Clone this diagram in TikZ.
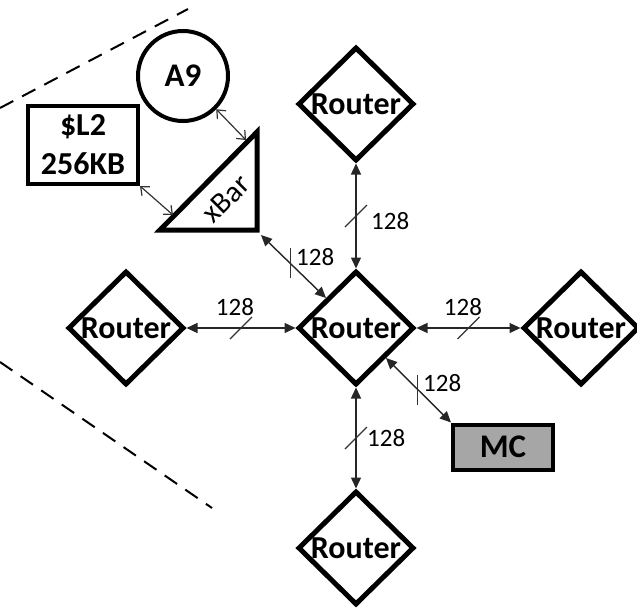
\documentclass[tikz,border=0pt]{standalone}
\usepackage{fontspec}
\setmainfont{Carlito}
\usetikzlibrary{shapes.geometric,arrows.meta}
\begin{document}
\begin{tikzpicture}[x=1pt,y=-1pt,
 router/.style={diamond,draw,line width=5pt,inner sep=0pt,minimum width=116pt,minimum height=114pt,font=\fontsize{32}{36}\selectfont\bfseries},
 conn/.style={line width=1.4pt,draw=black!85,{Triangle[length=11pt,width=10pt]}-{Triangle[length=11pt,width=10pt]}},
 thinconn/.style={line width=1.2pt,draw=black!80,{Straight Barb[length=7pt,width=12pt]}-{Straight Barb[length=7pt,width=12pt]}},
 lbl/.style={font=\fontsize{25}{28}\selectfont,inner sep=0pt},
 tickmark/.style={line width=1.2pt,draw=black!80},
 dashline/.style={line width=2pt,dash pattern=on 15pt off 10pt},
 boldtext/.style={font=\fontsize{33}{38}\selectfont\bfseries}
]
\useasboundingbox (0,0) rectangle (637,608);

% dashed boundary lines
\coordinate (d1a) at (0,108);
\coordinate (d1b) at (188,9);
\coordinate (d2a) at (0,362);
\coordinate (d2b) at (212,508);
\draw[dashline] (d1a) -- (d1b);
\draw[dashline] (d2a) -- (d2b);

% routers
\node[router] (tr) at (356,104) {Router};
\node[router] (cr) at (356,328) {Router};
\node[router] (lr) at (126,328) {Router};
\node[router] (rr) at (581,328) {Router};
\node[router] (br) at (356,548) {Router};

% MC
\node[draw,line width=4pt,fill=black!35,minimum width=100pt,minimum height=45pt,inner sep=0pt,boldtext] (mc) at (503,447) {MC};

% A9
\node[circle,draw,line width=4pt,minimum size=90pt,inner sep=0pt,boldtext] (a9) at (183,76) {A9};

% L2
\node[draw,line width=4pt,minimum width=110pt,minimum height=78pt,inner sep=0pt,align=center,font=\fontsize{32}{39}\selectfont\bfseries] (l2) at (83,145) {\$L2\\256KB};

% xBar triangle
\coordinate (xbt) at (257,132);
\coordinate (xbl) at (160,230);
\coordinate (xbr) at (257,230);
\draw[line width=5pt,line join=miter] (xbt) -- (xbl) -- (xbr) -- cycle;
\node[rotate=45,font=\fontsize{30}{34}\selectfont,inner sep=0pt] (xbar) at (226,199) {xBar};
\coordinate (xba) at (246,140);
\coordinate (xbb) at (173,215);
\coordinate (xbc) at (261,235);

% connectors
\draw[thinconn] (a9.-45) -- (xba);
\draw[thinconn] (l2.south east) -- (xbb);

\draw[conn] (xbc) -- coordinate[pos=0.45] (mx) (cr.135);
\draw[tickmark] (mx) +(0,-15) -- +(0,15);
\node[lbl,anchor=west] (lx) at (296,257) {128};

\draw[conn] (tr) -- coordinate[pos=0.5] (mt) (cr);
\draw[tickmark] (mt) +(-11,11) -- +(11,-11);
\node[lbl,anchor=west] (lt) at (371,221) {128};

\draw[conn] (br) -- coordinate[pos=0.5] (mb) (cr);
\draw[tickmark] (mb) +(-11,11) -- +(11,-11);
\node[lbl,anchor=west] (lb) at (367,438) {128};

\draw[conn] (lr) -- coordinate[pos=0.5] (ml) (cr);
\draw[tickmark] (ml) +(-11,11) -- +(11,-11);
\node[lbl] (ll) at (235,307) {128};

\draw[conn] (rr) -- coordinate[pos=0.5] (mr) (cr);
\draw[tickmark] (mr) +(-11,11) -- +(11,-11);
\node[lbl] (lrr) at (463,307) {128};

\draw[conn] (cr.-45) -- coordinate[pos=0.49] (mm) (mc.north west);
\draw[tickmark] (mm) +(0,-15) -- +(0,15);
\node[lbl,anchor=west] (lm) at (423,383) {128};
\end{tikzpicture}
\end{document}
